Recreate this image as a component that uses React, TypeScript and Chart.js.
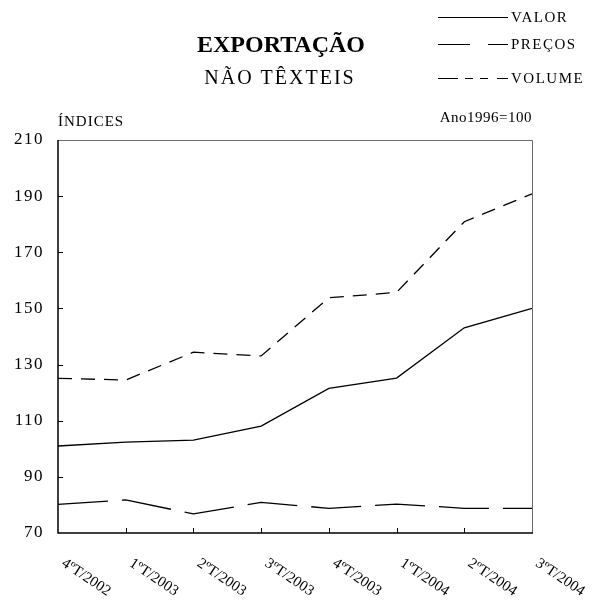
import { useEffect, useRef } from "react";
import { Chart, registerables } from "chart.js";

Chart.register(...registerables);

const categories = ["4ºT/2002", "1ºT/2003", "2ºT/2003", "3ºT/2003", "4ºT/2003", "1ºT/2004", "2ºT/2004", "3ºT/2004"];
const valor = [101.0, 102.4, 103.1, 108.1, 121.5, 125.2, 143.1, 150.0];
const precos = [80.2, 81.8, 76.8, 80.9, 78.8, 80.3, 78.8, 78.8];
const volume = [125.1, 124.5, 134.4, 133.1, 153.8, 155.7, 180.9, 190.8];
const seriesNames = ["VALOR", "PREÇOS", "VOLUME"];
const yTicks = [70, 90, 110, 130, 150, 170, 190, 210];
const titleText = "EXPORTAÇÃO";
const subtitleText = "NÃO TÊXTEIS";
const yAxisTitle = "ÍNDICES";
const baseNote = "Ano1996=100";

const seriesDash: number[][] = [[], [50, 14], [14, 9]];
const legendDash: number[][] = [[], [32, 18, 20, 0], [20, 7, 8, 7, 8, 9, 13, 0]];
const legendY = [17, 44, 78];
const FONT = "'Liberation Serif', 'Times New Roman', serif";

const decor = {
  id: "decor",
  beforeDraw(chart: any) {
    chart.ctx.letterSpacing = "1.5px";
  },
  afterDraw(chart: any) {
    const { ctx, chartArea: a, scales } = chart;
    const xs = scales.x;
    const ys = scales.y;
    ctx.save();
    ctx.letterSpacing = "0px";
    ctx.setLineDash([]);
    // frame: top and right
    ctx.strokeStyle = "#6a6a6a";
    ctx.lineWidth = 1;
    ctx.beginPath();
    ctx.moveTo(a.left, a.top + 0.5);
    ctx.lineTo(a.right + 0.5, a.top + 0.5);
    ctx.lineTo(a.right + 0.5, a.bottom);
    ctx.stroke();
    // axes: left and bottom
    ctx.strokeStyle = "#000";
    ctx.lineWidth = 1.5;
    ctx.beginPath();
    ctx.moveTo(a.left, a.top);
    ctx.lineTo(a.left, a.bottom);
    ctx.lineTo(a.right + 1, a.bottom);
    ctx.stroke();
    // inside ticks
    ctx.lineWidth = 1;
    ctx.beginPath();
    for (let i = 1; i < yTicks.length - 1; i++) {
      const py = Math.round(ys.getPixelForValue(yTicks[i])) + 0.5;
      ctx.moveTo(a.left, py);
      ctx.lineTo(a.left + 5, py);
    }
    for (let i = 1; i < categories.length - 1; i++) {
      const px = Math.round(xs.getPixelForValue(i)) + 0.5;
      ctx.moveTo(px, a.bottom);
      ctx.lineTo(px, a.bottom - 5);
    }
    ctx.stroke();

    // rotated x labels
    ctx.fillStyle = "#000";
    ctx.font = `15px ${FONT}`;
    ctx.letterSpacing = "0px";
    ctx.textAlign = "left";
    ctx.textBaseline = "middle";
    categories.forEach((lab, i) => {
      const px = xs.getPixelForValue(i);
      ctx.save();
      ctx.translate(px + 5, a.bottom + 29);
      ctx.rotate((33.7 * Math.PI) / 180);
      ctx.fillText(lab, 0, 0);
      ctx.restore();
    });

    // title
    ctx.textAlign = "center";
    ctx.font = `bold 24px ${FONT}`;
    ctx.letterSpacing = "0px";
    ctx.fillText(titleText, 281, 46);
    ctx.font = `20px ${FONT}`;
    ctx.letterSpacing = "2px";
    ctx.fillText(subtitleText, 280, 79);

    // axis title and note
    ctx.font = `15px ${FONT}`;
    ctx.letterSpacing = "1px";
    ctx.textAlign = "left";
    ctx.fillText(yAxisTitle, a.left, 122);
    ctx.letterSpacing = "0.5px";
    ctx.textAlign = "right";
    ctx.fillText(baseNote, a.right, 118);

    // legend
    ctx.textAlign = "left";
    ctx.letterSpacing = "1.5px";
    seriesNames.forEach((name, i) => {
      const y = legendY[i] + 0.5;
      ctx.setLineDash(legendDash[i]);
      ctx.lineWidth = 1.2;
      ctx.beginPath();
      ctx.moveTo(438, y);
      ctx.lineTo(508, y);
      ctx.stroke();
      ctx.setLineDash([]);
      ctx.fillText(name, 511, legendY[i] + 1);
    });
    ctx.restore();
  },
};

export default function App() {
  const ref = useRef<HTMLCanvasElement>(null);
  useEffect(() => {
    const series = [valor, precos, volume];
    const chart = new Chart(ref.current!, {
      type: "line",
      data: {
        labels: categories,
        datasets: series.map((d, i) => ({
          label: seriesNames[i],
          data: d,
          borderColor: "#000",
          borderWidth: 1.3,
          borderDash: seriesDash[i],
          pointRadius: 0,
          tension: 0,
          fill: false,
        })),
      },
      options: {
        animation: false,
        responsive: true,
        maintainAspectRatio: false,
        layout: { padding: { top: 140, right: 65, left: 0, bottom: 0 } },
        plugins: { legend: { display: false }, tooltip: { enabled: false }, title: { display: false } },
        scales: {
          x: {
            type: "category",
            offset: false,
            grid: { display: false },
            border: { display: false },
            ticks: { display: false },
            afterFit: (s: any) => {
              s.height = 67;
            },
          },
          y: {
            min: 70,
            max: 210,
            grid: { display: false, drawTicks: false },
            border: { display: false },
            ticks: {
              padding: 14,
              color: "#000",
              font: { family: FONT, size: 17 },
            },
            afterBuildTicks: (s: any) => {
              s.ticks = yTicks.map((v) => ({ value: v }));
            },
            afterFit: (s: any) => {
              s.width = 58;
            },
          },
        },
      },
      plugins: [decor],
    });
    return () => chart.destroy();
  }, []);
  return (
    <div style={{ position: "fixed", left: 0, top: 0, width: 597, height: 600, background: "#fff" }}>
      <canvas ref={ref} />
    </div>
  );
}
